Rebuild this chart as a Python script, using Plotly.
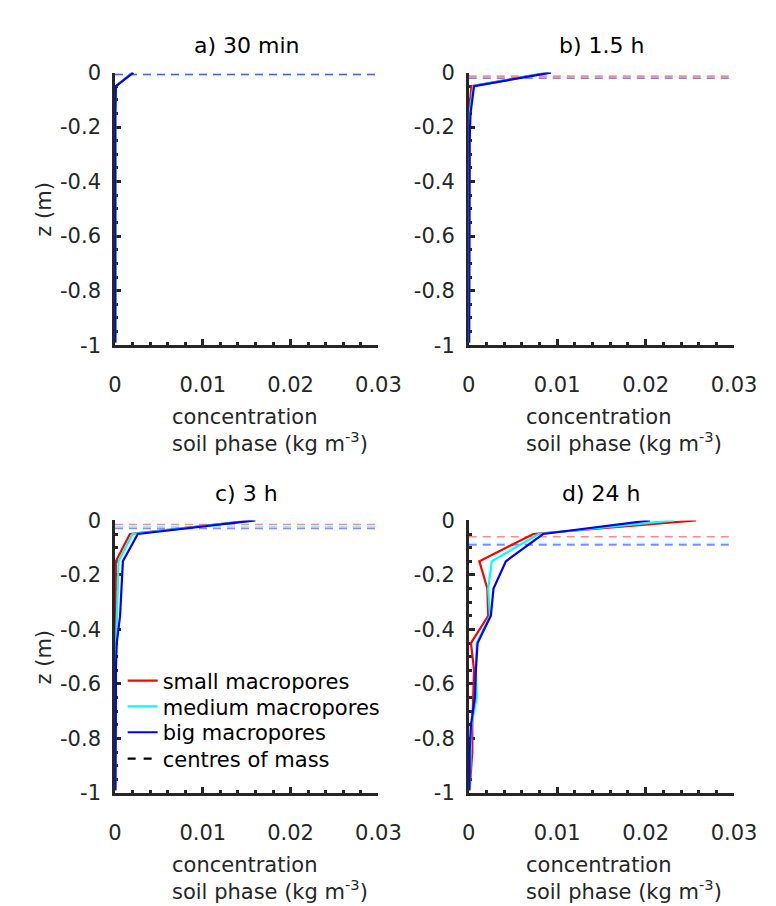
import plotly.graph_objects as go

# ---------------- data ----------------
depth_z = [0, -0.05, -0.15, -0.25, -0.35, -0.45, -0.55, -0.65, -0.75, -0.85, -0.95, -0.99]

panel_titles = ["a) 30 min", "b) 1.5 h", "c) 3 h", "d) 24 h"]
series_names = ["small macropores", "medium macropores", "big macropores"]
series_colors = ["#ff0000", "#00ffff", "#0000ff"]
com_colors = ["rgba(255,0,0,0.45)", "rgba(0,255,255,0.5)", "rgba(0,0,255,0.45)"]
com_name = "centres of mass"

# concentration soil phase (kg m-3): [small, medium, big] per panel
conc_a_small = [0.0020, 0.0001, 0.00003, 0.00003, 0.00003, 0.00003, 0.00003, 0.00003, 0.00003, 0.00003, 0.00003, 0.00003]
conc_a_medium = [0.0020, 0.0001, 0.00003, 0.00003, 0.00003, 0.00003, 0.00003, 0.00003, 0.00003, 0.00003, 0.00003, 0.00003]
conc_a_big = [0.0021, 0.0001, 0.00003, 0.00003, 0.00003, 0.00003, 0.00003, 0.00003, 0.00003, 0.00003, 0.00003, 0.00003]

conc_b_small = [0.0090, 0.0003, 0.00003, 0.00003, 0.00003, 0.00003, 0.00003, 0.00003, 0.00003, 0.00003, 0.00003, 0.00003]
conc_b_medium = [0.0091, 0.0005, 0.0001, 0.00005, 0.00005, 0.00004, 0.00003, 0.00003, 0.00003, 0.00003, 0.00003, 0.00003]
conc_b_big = [0.0093, 0.0006, 0.0002, 0.0001, 0.0001, 0.00008, 0.00006, 0.00005, 0.00005, 0.00004, 0.00004, 0.00004]

conc_c_small = [0.0157, 0.0017, 0.0001, 0.0001, 0.00006, 0.00003, 0.00003, 0.00003, 0.00003, 0.00003, 0.00003, 0.00003]
conc_c_medium = [0.0158, 0.0020, 0.0004, 0.0003, 0.0002, 0.0001, 0.00005, 0.00004, 0.00004, 0.00003, 0.00003, 0.00003]
conc_c_big = [0.0160, 0.0026, 0.0009, 0.00076, 0.00058, 0.0002, 0.0001, 0.0001, 0.00006, 0.00005, 0.00004, 0.00004]

conc_d_small = [0.0257, 0.0073, 0.0012, 0.0021, 0.0022, 0.00025, 0.0006, 0.0005, 0.0004, 0.0004, 0.0002, 0.0001]
conc_d_medium = [0.0232, 0.0079, 0.0026, 0.0022, 0.0024, 0.0009, 0.0008, 0.0009, 0.0003, 0.0002, 0.0001, 0.0001]
conc_d_big = [0.0205, 0.0084, 0.0042, 0.0028, 0.0025, 0.0010, 0.0008, 0.0007, 0.00025, 0.0001, 0.0001, 0.00005]

# centres of mass depth (m): [small, medium, big] per panel
com_a = [-0.007, -0.007, -0.007]
com_b = [-0.013, -0.019, -0.021]
com_c = [-0.015, -0.024, -0.030]
com_d = [-0.060, -0.085, -0.090]

x_range = [0, 0.03]
y_range = [-1, 0]
x_tickvals = [0, 0.01, 0.02, 0.03]
x_ticktext = ["0", "0.01", "0.02", "0.03"]
y_tickvals = [0, -0.2, -0.4, -0.6, -0.8, -1]
y_ticktext = ["0", "-0.2", "-0.4", "-0.6", "-0.8", "-1"]

panels = [
    ([conc_a_small, conc_a_medium, conc_a_big], com_a),
    ([conc_b_small, conc_b_medium, conc_b_big], com_b),
    ([conc_c_small, conc_c_medium, conc_c_big], com_c),
    ([conc_d_small, conc_d_medium, conc_d_big], com_d),
]

# ---------------- layout geometry ----------------
W, H = 776, 906
FONT = "DejaVu Sans"
TXT = "#262626"
xdoms = [[104 / W, 378 / W], [472 / W, 748 / W]]
ydoms = [[1 - 334 / H, 1 - 54 / H], [1 - 794 / H, 1 - 514 / H]]

fig = go.Figure()
legend_ids = ["legend", "legend2", "legend3"]

for p, (series, com) in enumerate(panels):
    ax = "" if p == 0 else str(p + 1)
    xref, yref = "x" + ax, "y" + ax
    # centres of mass (dashed)
    for s in range(3):
        fig.add_trace(go.Scatter(
            x=x_range, y=[com[s], com[s]], mode="lines",
            line=dict(color=com_colors[s], width=1.6, dash="8px,6px"),
            xaxis=xref, yaxis=yref, showlegend=False, hoverinfo="skip"))
    for s in range(3):
        fig.add_trace(go.Scatter(
            x=series[s], y=depth_z, mode="lines", name=series_names[s],
            line=dict(color=series_colors[s], width=2.2),
            xaxis=xref, yaxis=yref, showlegend=(p == 2),
            legend=legend_ids[s]))

# legend entry for centres of mass
fig.add_trace(go.Scatter(
    x=[None], y=[None], mode="lines", name=com_name,
    line=dict(color="black", width=2.2, dash="8px,8px"),
    xaxis="x3", yaxis="y3", showlegend=True, legend="legend4"))

axis_common = dict(
    showline=True, linecolor=TXT, linewidth=2.5, mirror=False,
    showgrid=False, zeroline=False, ticks="inside", ticklen=6, tickwidth=2.5,
    tickcolor=TXT, layer="below traces",
    tickfont=dict(family=FONT, size=21, color=TXT),
)

for p in range(4):
    ax = "" if p == 0 else str(p + 1)
    r, c = divmod(p, 2)
    fig.update_layout(**{
        "xaxis" + ax: dict(
            axis_common, domain=xdoms[c], range=x_range, anchor="y" + ax,
            tickvals=x_tickvals, ticktext=x_ticktext, ticklabelstandoff=19,
            minor=dict(ticks="inside", ticklen=3, tickwidth=2.5, tickcolor=TXT, dtick=0.002, tick0=0, showgrid=False)),
        "yaxis" + ax: dict(
            axis_common, domain=ydoms[r], range=y_range, anchor="x" + ax,
            tickvals=y_tickvals, ticktext=y_ticktext, ticklabelstandoff=7,
            minor=dict(ticks="inside", ticklen=3, tickwidth=2.5, tickcolor=TXT, dtick=0.05, tick0=0, showgrid=False)),
    })

annotations = []
title_y = [1 - 26.5 / H, 1 - 486.5 / H]
xlab_y = [1 - 422 / H, 1 - 882 / H]
ylab_y = [1 - 194 / H, 1 - 654 / H]
for p in range(4):
    r, c = divmod(p, 2)
    annotations.append(dict(
        text=panel_titles[p], x=(xdoms[c][0] + xdoms[c][1]) / 2, y=title_y[r],
        xref="paper", yref="paper", xanchor="center", yanchor="middle",
        showarrow=False, font=dict(family=FONT, size=22, color="black")))
    annotations.append(dict(
        text="concentration<br>soil phase (kg m<sup>-3</sup>)",
        x=xdoms[c][0] + 57 / W, y=xlab_y[r], xref="paper", yref="paper",
        xanchor="left", yanchor="middle", align="left", showarrow=False,
        font=dict(family=FONT, size=21, color=TXT)))
    if c == 0:
        annotations.append(dict(
            text="z (m)", x=30 / W, y=ylab_y[r], xref="paper", yref="paper",
            xanchor="center", yanchor="middle", textangle=-90, showarrow=False,
            font=dict(family=FONT, size=21, color=TXT)))

leg_common = dict(
    x=112 / W, xanchor="left", yanchor="middle", bgcolor="rgba(0,0,0,0)",
    borderwidth=0, font=dict(family=FONT, size=21, color="black"),
    itemwidth=30, tracegroupgap=0)
leg_y = [679, 705.5, 732, 759]

fig.update_layout(
    width=W, height=H, margin=dict(l=0, r=0, t=0, b=0),
    paper_bgcolor="white", plot_bgcolor="white",
    annotations=annotations,
    legend=dict(leg_common, y=1 - leg_y[0] / H),
    legend2=dict(leg_common, y=1 - leg_y[1] / H),
    legend3=dict(leg_common, y=1 - leg_y[2] / H),
    legend4=dict(leg_common, y=1 - leg_y[3] / H),
    font=dict(family=FONT),
)

fig.write_html("out.html")
